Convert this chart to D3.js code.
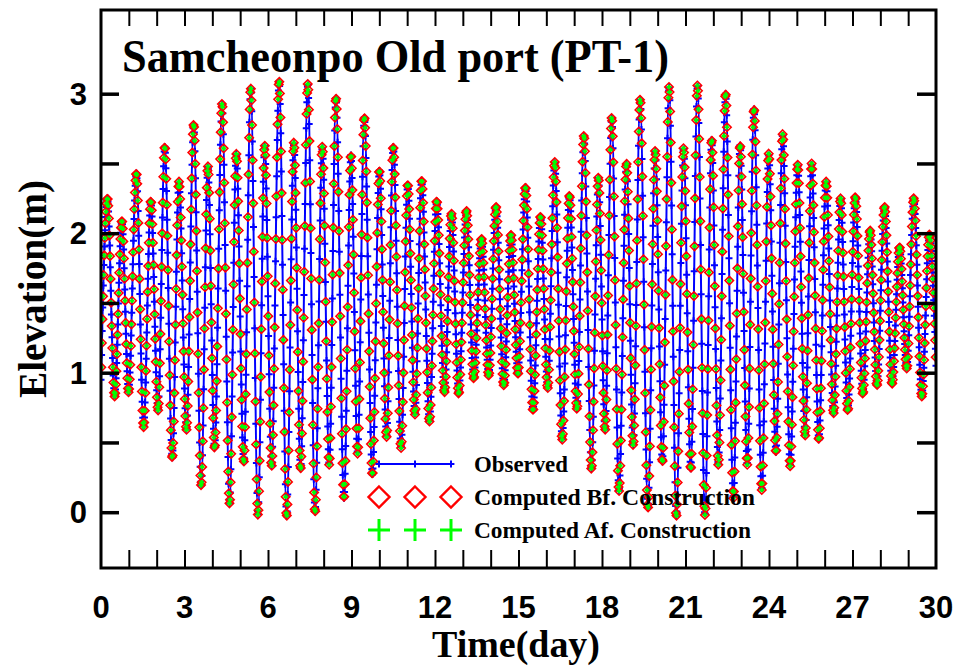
<!DOCTYPE html>
<html>
<head>
<meta charset="utf-8">
<script src="https://cdn.jsdelivr.net/npm/d3@7"></script>
<style>
  html, body { margin: 0; padding: 0; background: #fff; }
  svg { display: block; }
</style>
</head>
<body>
<svg id="chart" width="958" height="671"></svg>
<script>
// ---- Data (times of high / low water, in days, and levels in m) ----
const extremeTime = [
  0.00, 0.23, 0.49, 0.75, 0.99, 1.27, 1.53, 1.79, 2.05, 2.29, 2.56, 2.80, 3.07, 3.33, 3.60, 3.84,
  4.08, 4.35, 4.62, 4.86, 5.13, 5.38, 5.64, 5.88, 6.13, 6.40, 6.67, 6.93, 7.17, 7.43, 7.69, 7.95,
  8.20, 8.44, 8.73, 8.98, 9.22, 9.46, 9.75, 10.00, 10.26, 10.50, 10.78, 11.02, 11.28, 11.52, 11.80,
  12.06, 12.34, 12.59, 12.85, 13.13, 13.39, 13.67, 13.93, 14.19, 14.47, 14.73, 14.98, 15.25, 15.52,
  15.79, 16.05, 16.30, 16.57, 16.83, 17.10, 17.35, 17.62, 17.87, 18.11, 18.35, 18.61, 18.88, 19.12,
  19.37, 19.65, 19.91, 20.17, 20.41, 20.67, 20.93, 21.19, 21.43, 21.70, 21.94, 22.18, 22.44, 22.72,
  22.96, 23.22, 23.46, 23.74, 23.99, 24.25, 24.49, 24.76, 25.03, 25.30, 25.53, 25.79, 26.05, 26.32,
  26.57, 26.83, 27.10, 27.37, 27.63, 27.88, 28.15, 28.42, 28.69, 28.95, 29.20, 29.49, 29.76, 30.00
];
const extremeLevel = [
  0.95, 2.25, 0.83, 2.09, 0.86, 2.43, 0.61, 2.23, 0.73, 2.62, 0.39, 2.37, 0.59, 2.78, 0.19, 2.48,
  0.46, 2.93, 0.06, 2.57, 0.36, 3.04, -0.02, 2.63, 0.33, 3.09, -0.03, 2.65, 0.31, 3.07, 0.00, 2.62,
  0.34, 2.97, 0.10, 2.56, 0.42, 2.83, 0.27, 2.45, 0.54, 2.62, 0.46, 2.35, 0.70, 2.38, 0.65,
  2.23, 0.86, 2.14, 0.85, 2.16, 0.96, 1.96, 0.98, 2.19, 0.91, 1.99, 0.99, 2.33, 0.73,
  2.12, 0.89, 2.51, 0.52, 2.27, 0.74, 2.70, 0.31, 2.40, 0.59, 2.83, 0.15, 2.50, 0.48,
  2.96, 0.03, 2.59, 0.36, 3.05, -0.03, 2.61, 0.31, 3.06, -0.02, 2.67, 0.34, 3.00, 0.10,
  2.63, 0.34, 2.89, 0.16, 2.57, 0.43, 2.71, 0.33, 2.49, 0.55, 2.50, 0.52, 2.37, 0.71,
  2.25, 0.73, 2.26, 0.85, 2.02, 0.91, 2.19, 0.92, 1.90, 1.03, 2.25, 0.83, 1.99, 1.05
];
const samplesPerDay = 48;        // records every 30 minutes
const computedOffset = 0.5;      // computed records fall between the observed ones
const xTickValues = [0, 3, 6, 9, 12, 15, 18, 21, 24, 27, 30];
const yTickValues = [0, 1, 2, 3];
const legendLabels = ["Observed", "Computed Bf. Construction", "Computed Af. Construction"];
const titleText = "Samcheonpo Old port (PT-1)";

// ---- Layout ----
const svg = d3.select("#chart");
const x = d3.scaleLinear().domain([0, 30]).range([101, 936]);
const y = d3.scaleLinear().domain([-0.4, 3.6]).range([568, 10]);
const serif = "'Liberation Serif', 'Times New Roman', Times, serif";
const sans = "'Liberation Sans', Arial, Helvetica, sans-serif";

const extremes = extremeTime.map((t, i) => ({ t, v: extremeLevel[i] }));

svg.append("clipPath").attr("id", "clip").append("rect")
  .attr("x", x(0)).attr("y", y(3.6)).attr("width", x(30) - x(0)).attr("height", y(-0.4) - y(3.6));
const data = svg.append("g").attr("clip-path", "url(#clip)");

// observed line (library curve through the read high/low waters)
const line = d3.line().x(d => x(d.t)).y(d => y(d.v)).curve(d3.curveMonotoneX);
const dStr = line(extremes);
data.append("path")
  .attr("d", dStr)
  .attr("fill", "none")
  .attr("stroke", "#0000ff")
  .attr("stroke-width", 2);

// read positions of the record times off the drawn curve (its cubic segments)
const parts = dStr.split("C");
const num = s => s.match(/-?\d*\.?\d+(?:e[-+]?\d+)?/gi).map(Number);
let start = num(parts[0].replace("M", ""));
const segs = [];
for (let i = 1; i < parts.length; i++) {
  const n = num(parts[i]);
  segs.push([start[0], start[1], n[0], n[1], n[2], n[3], n[4], n[5]]);
  start = [n[4], n[5]];
}
const bez = (a, b, c, d, s) => {
  const u = 1 - s;
  return u * u * u * a + 3 * u * u * s * b + 3 * u * s * s * c + s * s * s * d;
};
function sampleSeries(offset) {
  const out = [];
  let si = 0;
  for (let k = 0; ; k++) {
    const t = (k + offset) / samplesPerDay;
    if (t > 30) break;
    const px = x(t);
    while (si < segs.length - 1 && segs[si][6] < px) si++;
    const g = segs[si];
    let lo = 0, hi = 1;
    for (let it = 0; it < 30; it++) {
      const mid = (lo + hi) / 2;
      if (bez(g[0], g[2], g[4], g[6], mid) < px) lo = mid; else hi = mid;
    }
    const py = bez(g[1], g[3], g[5], g[7], (lo + hi) / 2);
    out.push({ t, v: y.invert(py) });
  }
  return out;
}
const observed = sampleSeries(0);
const computed = sampleSeries(computedOffset);

const plusPath = s => `M${-s},0H${s}M0,${-s}V${s}`;
const diamondPath = s => `M0,${-s}L${s},0L0,${s}L${-s},0Z`;

data.append("g").selectAll("path").data(observed).join("path")
  .attr("transform", d => `translate(${x(d.t)},${y(d.v)})`)
  .attr("d", plusPath(3.5))
  .attr("stroke", "#0000ff").attr("stroke-width", 2).attr("fill", "none");

data.append("g").selectAll("path").data(computed).join("path")
  .attr("transform", d => `translate(${x(d.t)},${y(d.v)})`)
  .attr("d", diamondPath(4.2))
  .attr("stroke", "#ff0000").attr("stroke-width", 1.6).attr("fill", "none");

data.append("g").selectAll("path").data(computed).join("path")
  .attr("transform", d => `translate(${x(d.t)},${y(d.v)})`)
  .attr("d", plusPath(2.3))
  .attr("stroke", "#00ff00").attr("stroke-width", 2.2).attr("fill", "none");

// ---- Axes ----
const minorX = d3.range(1, 30);
const yMinor = [0, 0.5, 1, 1.5, 2, 2.5, 3];
const axB = svg.append("g").attr("transform", `translate(0,${y(-0.4)})`)
  .call(d3.axisBottom(x).tickValues(minorX).tickSizeInner(-18).tickSizeOuter(0).tickFormat(""));
const axT = svg.append("g").attr("transform", `translate(0,${y(3.6)})`)
  .call(d3.axisTop(x).tickValues(minorX).tickSizeInner(-16).tickSizeOuter(0).tickFormat(""));
const axL = svg.append("g").attr("transform", `translate(${x(0)},0)`)
  .call(d3.axisLeft(y).tickValues(yMinor).tickSizeInner(-18).tickSizeOuter(0).tickFormat(""));
const axR = svg.append("g").attr("transform", `translate(${x(30)},0)`)
  .call(d3.axisRight(y).tickValues(yMinor).tickSizeInner(-19).tickSizeOuter(0).tickFormat(""));
[axB, axT].forEach(a => { a.select(".domain").remove(); a.selectAll("line").attr("stroke", "#000").attr("stroke-width", 2); });
[axL, axR].forEach(a => { a.select(".domain").remove(); a.selectAll("line").attr("stroke", "#000").attr("stroke-width", 3.5); });

// frame
svg.append("rect")
  .attr("x", x(0)).attr("y", y(3.6)).attr("width", x(30) - x(0)).attr("height", y(-0.4) - y(3.6))
  .attr("fill", "none").attr("stroke", "#000").attr("stroke-width", 3);

// tick labels
svg.append("g").selectAll("text").data(xTickValues).join("text")
  .attr("x", d => x(d)).attr("y", 618)
  .attr("text-anchor", "middle")
  .attr("font-family", sans).attr("font-weight", "bold").attr("font-size", 31)
  .text(d => d);
svg.append("g").selectAll("text").data(yTickValues).join("text")
  .attr("x", 87).attr("y", d => y(d) + 11)
  .attr("text-anchor", "end")
  .attr("font-family", sans).attr("font-weight", "bold").attr("font-size", 31)
  .text(d => d);

// axis titles
svg.append("text")
  .attr("x", 516).attr("y", 657)
  .attr("text-anchor", "middle")
  .attr("font-family", serif).attr("font-weight", "bold").attr("font-size", 38)
  .attr("textLength", 168).attr("lengthAdjust", "spacingAndGlyphs")
  .text("Time(day)");
svg.append("text")
  .attr("transform", `translate(46,${(y(3.6) + y(-0.4)) / 2}) rotate(-90)`)
  .attr("text-anchor", "middle")
  .attr("font-family", serif).attr("font-weight", "bold").attr("font-size", 40)
  .attr("textLength", 218).attr("lengthAdjust", "spacingAndGlyphs")
  .text("Elevation(m)");

// title
svg.append("text")
  .attr("x", 122).attr("y", 72)
  .attr("font-family", serif).attr("font-weight", "bold").attr("font-size", 46)
  .attr("textLength", 547).attr("lengthAdjust", "spacingAndGlyphs")
  .text(titleText);

// ---- Legend ----
const lg = svg.append("g");
const lgX = [379, 415, 451];
const lgRows = [464, 497, 530];
lg.append("line").attr("x1", 377).attr("x2", 452).attr("y1", lgRows[0]).attr("y2", lgRows[0])
  .attr("stroke", "#0000ff").attr("stroke-width", 2);
lg.selectAll(".lo").data(lgX).join("path").attr("class", "lo")
  .attr("transform", d => `translate(${d},${lgRows[0]})`)
  .attr("d", plusPath(3.4)).attr("stroke", "#0000ff").attr("stroke-width", 2);
lg.selectAll(".lb").data(lgX).join("path").attr("class", "lb")
  .attr("transform", d => `translate(${d},${lgRows[1]})`)
  .attr("d", diamondPath(10.5)).attr("stroke", "#ff0000").attr("stroke-width", 2.4).attr("fill", "none");
lg.selectAll(".la").data(lgX).join("path").attr("class", "la")
  .attr("transform", d => `translate(${d},${lgRows[2]})`)
  .attr("d", plusPath(11)).attr("stroke", "#00ff00").attr("stroke-width", 3).attr("fill", "none");
const lgLen = [94, 281, 277];
lg.selectAll("text").data(legendLabels).join("text")
  .attr("x", 474).attr("y", (d, i) => lgRows[i] + 8)
  .attr("font-family", serif).attr("font-weight", "bold").attr("font-size", 23)
  .attr("textLength", (d, i) => lgLen[i]).attr("lengthAdjust", "spacingAndGlyphs")
  .text(d => d);
</script>
</body>
</html>
